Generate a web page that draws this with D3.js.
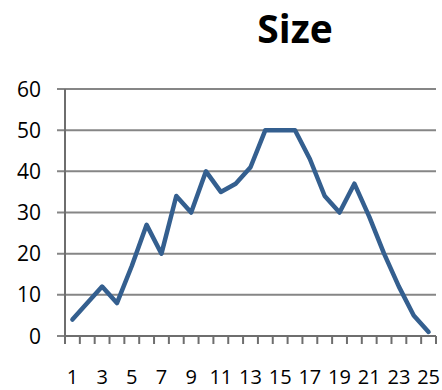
<!DOCTYPE html>
<html>
<head>
<meta charset="utf-8">
<script src="https://cdn.jsdelivr.net/npm/d3@7"></script>
<style>
  html, body { margin: 0; padding: 0; background: #fff; }
  svg { display: block; }
  text { font-family: "Open Sans", "Liberation Sans", Arial, sans-serif; fill: #000; }
</style>
</head>
<body>
<div id="chart"></div>
<script>
// chart data
const categories = d3.range(1, 26);
const sizeValues = [4, 8, 12, 8, 17, 27, 20, 34, 30, 40, 35, 37, 41, 50, 50, 50, 43, 34, 30, 37, 29, 20, 12, 5, 1];
const yTicks = [0, 10, 20, 30, 40, 50, 60];
const xTickLabels = categories.filter(c => c % 2 === 1);

const width = 442, height = 390;
const margin = { top: 89, right: 6, bottom: 54, left: 65 };

const svg = d3.select("#chart").append("svg")
  .attr("width", width)
  .attr("height", height);

const x = d3.scaleBand()
  .domain(categories)
  .range([margin.left, width - margin.right]);

const y = d3.scaleLinear()
  .domain([0, 60])
  .range([height - margin.bottom, margin.top]);

// gridlines + y labels
const gGrid = svg.append("g");
gGrid.selectAll("line")
  .data(yTicks)
  .join("line")
  .attr("x1", margin.left - 8)
  .attr("x2", width - margin.right)
  .attr("y1", d => y(d))
  .attr("y2", d => y(d))
  .attr("stroke", "#868686")
  .attr("stroke-width", 2);

gGrid.selectAll("text")
  .data(yTicks)
  .join("text")
  .attr("x", 41)
  .attr("y", d => y(d))
  .attr("dy", "0.36em")
  .attr("text-anchor", "end")
  .style("font-size", "21px")
  .text(d => d);

// x axis: ticks between categories
const xEdges = categories.map(c => x(c)).concat([x(categories[categories.length - 1]) + x.bandwidth()]);
svg.append("g").selectAll("line")
  .data(xEdges)
  .join("line")
  .attr("x1", d => d)
  .attr("x2", d => d)
  .attr("y1", y(0))
  .attr("y2", y(0) + 8)
  .attr("stroke", "#6e6e6e")
  .attr("stroke-width", 2);

svg.append("line")
  .attr("x1", margin.left)
  .attr("x2", width - margin.right)
  .attr("y1", y(0))
  .attr("y2", y(0))
  .attr("stroke", "#6e6e6e")
  .attr("stroke-width", 2);

// y axis line
svg.append("line")
  .attr("x1", margin.left)
  .attr("x2", margin.left)
  .attr("y1", y(60))
  .attr("y2", y(0))
  .attr("stroke", "#6e6e6e")
  .attr("stroke-width", 2);

svg.append("g").selectAll("text")
  .data(xTickLabels)
  .join("text")
  .attr("x", d => x(d) + x.bandwidth() / 2)
  .attr("y", 384)
  .attr("text-anchor", "middle")
  .style("font-size", "20px")
  .text(d => d);

// the line
const line = d3.line()
  .x((d, i) => x(categories[i]) + x.bandwidth() / 2)
  .y(d => y(d));

svg.append("path")
  .datum(sizeValues)
  .attr("d", line)
  .attr("fill", "none")
  .attr("stroke", "#345f8f")
  .attr("stroke-width", 4.5)
  .attr("stroke-linejoin", "round")
  .attr("stroke-linecap", "round");

// title
svg.append("text")
  .attr("x", 295)
  .attr("y", 43)
  .attr("text-anchor", "middle")
  .style("font-size", "39px")
  .style("font-weight", "bold")
  .text("Size");
</script>
</body>
</html>
